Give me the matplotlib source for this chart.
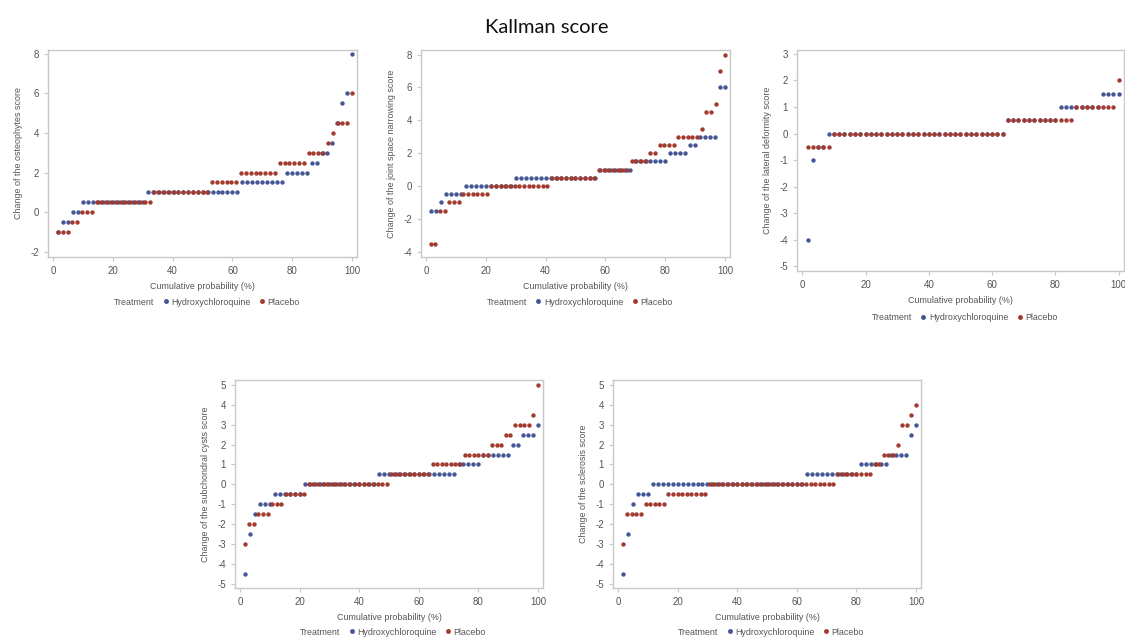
import numpy as np
import matplotlib.pyplot as plt
from matplotlib.lines import Line2D

# value levels and how many patients sit on each level
osteo_hcq_vals = [-1, -0.5, 0, 0.5, 1, 1.5, 2, 2.5, 3, 3.5, 4.5, 5.5, 6, 8]
osteo_hcq_counts = [1, 2, 2, 13, 19, 9, 5, 2, 2, 1, 1, 1, 1, 1]
osteo_pbo_vals = [-1, -0.5, 0, 0.5, 1, 1.5, 2, 2.5, 3, 3.5, 4, 4.5, 6]
osteo_pbo_counts = [3, 2, 3, 12, 12, 6, 8, 6, 4, 1, 1, 3, 1]

jsn_hcq_vals = [-1.5, -1, -0.5, 0, 0.5, 1, 1.5, 2, 2.5, 3, 6]
jsn_hcq_counts = [2, 1, 4, 10, 17, 7, 7, 4, 2, 4, 2]
jsn_pbo_vals = [-3.5, -1.5, -1, -0.5, 0, 0.5, 1, 1.5, 2, 2.5, 3, 3.5, 4.5, 5, 7, 8]
jsn_pbo_counts = [2, 2, 3, 6, 13, 10, 7, 4, 2, 4, 5, 1, 2, 1, 1, 1]

lat_hcq_vals = [-4, -1, -0.5, 0, 0.5, 1, 1.5]
lat_hcq_counts = [1, 1, 2, 34, 10, 8, 4]
lat_pbo_vals = [-0.5, 0, 0.5, 1, 2]
lat_pbo_counts = [5, 33, 13, 8, 1]

cyst_hcq_vals = [-4.5, -2.5, -1.5, -1, -0.5, 0, 0.5, 1, 1.5, 2, 2.5, 3]
cyst_hcq_counts = [1, 1, 1, 3, 6, 15, 16, 5, 6, 2, 3, 1]
cyst_pbo_vals = [-3, -2, -1.5, -1, -0.5, 0, 0.5, 1, 1.5, 2, 2.5, 3, 3.5, 5]
cyst_pbo_counts = [1, 2, 3, 3, 5, 18, 9, 7, 6, 3, 2, 4, 1, 1]

scl_hcq_vals = [-4.5, -2.5, -1, -0.5, 0, 0.5, 1, 1.5, 2.5, 3]
scl_hcq_counts = [1, 1, 1, 3, 31, 11, 6, 4, 1, 1]
scl_pbo_vals = [-3, -1.5, -1, -0.5, 0, 0.5, 1, 1.5, 2, 3, 3.5, 4]
scl_pbo_counts = [1, 4, 5, 9, 28, 8, 2, 3, 1, 2, 1, 1]

panels = [
    ("Change of the osteophytes score", osteo_hcq_vals, osteo_hcq_counts,
     osteo_pbo_vals, osteo_pbo_counts),
    ("Change of the joint space narrowing score", jsn_hcq_vals, jsn_hcq_counts,
     jsn_pbo_vals, jsn_pbo_counts),
    ("Change of the lateral deformity score", lat_hcq_vals, lat_hcq_counts,
     lat_pbo_vals, lat_pbo_counts),
    ("Change of the subchondral cysts score", cyst_hcq_vals, cyst_hcq_counts,
     cyst_pbo_vals, cyst_pbo_counts),
    ("Change of the sclerosis score", scl_hcq_vals, scl_hcq_counts,
     scl_pbo_vals, scl_pbo_counts),
]

# figure-fraction boxes [left, bottom, width, height]
boxes = [
    [0.0427, 0.5978, 0.2747, 0.3240],
    [0.3742, 0.5978, 0.2747, 0.3240],
    [0.7084, 0.5759, 0.2907, 0.3459],
    [0.2089, 0.0798, 0.2738, 0.3255],
    [0.5449, 0.0798, 0.2738, 0.3255],
]
ylims = [(-2.27, 8.2), (-4.32, 8.28), (-5.18, 3.15), (-5.22, 5.25), (-5.22, 5.25)]
yticks = [np.arange(-2, 9, 2), np.arange(-4, 9, 2), np.arange(-5, 4, 1),
          np.arange(-5, 6, 1), np.arange(-5, 6, 1)]
# legend distance below the axes, in pixels
leg_gap = [45, 45, 47, 44, 44]

BLUE = '#445694'
RED = '#a23a2e'
GREY = '#c8c8c8'
TXT = '#555555'

plt.rcParams['font.family'] = ['Liberation Sans', 'DejaVu Sans']
plt.rcParams['axes.unicode_minus'] = False
fig = plt.figure(figsize=(11.25, 6.39), dpi=100)
fig.text(0.486, 0.957, "Kallman score", ha='center', va='center',
         fontsize=14.5, family=['Lato', 'DejaVu Sans'], color='#111111')


def cum_prob(vals, counts):
    y = np.repeat(vals, counts).astype(float)
    x = np.arange(1, len(y) + 1) / len(y) * 100
    return x, y


for (ylabel, hv, hc, pv, pc), box, yl, yt, gap in zip(panels, boxes, ylims, yticks, leg_gap):
    ax = fig.add_axes(box)
    hx, hy = cum_prob(hv, hc)
    px, py = cum_prob(pv, pc)
    ax.scatter(hx, hy, s=10, color=BLUE, linewidths=0, zorder=3)
    ax.scatter(px, py, s=10, color=RED, linewidths=0, zorder=3)
    ax.set_xlim(-1.7, 101.7)
    ax.set_ylim(*yl)
    ax.set_xticks(np.arange(0, 101, 20))
    ax.set_yticks(yt)
    for sp in ax.spines.values():
        sp.set_color(GREY)
        sp.set_linewidth(1.0)
    ax.tick_params(colors=GREY, labelcolor=TXT, labelsize=7, length=3, width=0.8)
    ax.set_xlabel("Cumulative probability (%)", fontsize=6.4, color=TXT, labelpad=4)
    ax.set_ylabel(ylabel, fontsize=6.4, color=TXT, labelpad=5)
    handles = [Line2D([], [], linestyle='none', marker=''),
               Line2D([], [], linestyle='none', marker='o', color=BLUE, markersize=2.5),
               Line2D([], [], linestyle='none', marker='o', color=RED, markersize=2.5)]
    h_px = box[3] * 639
    leg = ax.legend(handles, ["Treatment", "Hydroxychloroquine", "Placebo"],
                    ncol=3, loc='center', bbox_to_anchor=(0.5, -gap / h_px),
                    frameon=False, fontsize=6.4, handlelength=0.6, borderpad=0,
                    handletextpad=0.3, columnspacing=1.0)
    for t in leg.get_texts():
        t.set_color(TXT)

fig.savefig("out.png", dpi=100)
